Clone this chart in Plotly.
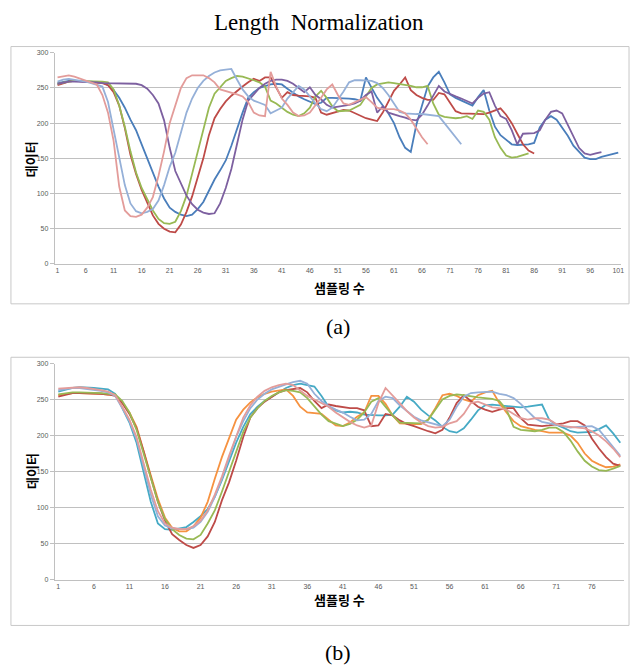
import plotly.graph_objects as go

# ---------------- data: (a) raw sequences ----------------
a_blue = [257, 259, 260, 260, 260, 259, 259, 258, 258, 254, 247, 236, 222, 205, 190, 170, 150, 130, 110, 93,
          80, 74, 70, 68, 70, 78, 88, 104, 120, 133, 147, 168, 192, 215, 236, 244, 250, 253, 255, 256,
          255, 249, 243, 238, 234, 230, 227, 229, 236, 236, 236, 236, 235, 234, 232, 265, 250, 236, 225, 214,
          200, 180, 165, 159, 198, 226, 252, 265, 273, 258, 241, 236, 232, 228, 225, 237, 247, 218, 195, 183,
          176, 170, 169, 169, 170, 172, 194, 205, 210, 205, 194, 182, 168, 159, 151, 149, 149, 152, 154, 156,
          158]
a_red = [254, 257, 259, 260, 260, 259, 258, 258, 257, 254, 244, 225, 193, 155, 128, 105, 86, 69, 57, 50,
         46, 45, 56, 74, 96, 122, 150, 183, 207, 220, 231, 239, 246, 252, 258, 263, 260, 265, 265, 250,
         236, 244, 240, 239, 239, 238, 236, 215, 212, 214, 217, 219, 218, 214, 210, 207, 205, 203, 215, 230,
         246, 255, 265, 247, 240, 236, 233, 233, 243, 241, 228, 217, 214, 214, 214, 213, 213, 215, 218, 221,
         212, 200, 185, 170, 161, 157]
a_green = [256, 258, 259, 260, 260, 260, 260, 260, 259, 258, 248, 225, 195, 160, 130, 108, 91, 76, 64, 58,
           57, 60, 75, 97, 128, 160, 192, 222, 242, 251, 260, 264, 267, 266, 264, 261, 258, 252, 232, 228,
           222, 216, 212, 210, 214, 222, 238, 246, 236, 224, 217, 217, 218, 222, 226, 238, 250, 255, 257, 258,
           257, 256, 255, 253, 251, 251, 253, 228, 212, 209, 208, 207, 208, 210, 206, 218, 216, 205, 180, 165,
           154, 151, 152, 154, 157]
a_purple = [256, 258, 259, 259, 259, 259, 258, 258, 257, 257, 257, 257, 257, 257, 256, 254, 249, 240, 228, 204,
            165, 132, 115, 97, 85, 77, 73, 71, 72, 86, 108, 135, 170, 205, 232, 241, 250, 256, 260, 262,
            262, 260, 256, 250, 244, 251, 240, 234, 226, 222, 223, 224, 226, 228, 232, 240, 245, 215, 224, 215,
            212, 210, 208, 205, 204, 212, 225, 240, 253, 245, 241, 238, 235, 232, 228, 236, 242, 244, 225, 210,
            206, 190, 170, 185, 185, 186, 190, 205, 216, 218, 214, 198, 180, 165, 157, 155, 157, 159]
a_lightblue = [259, 262, 263, 262, 261, 259, 257, 255, 252, 230, 192, 150, 112, 86, 75, 72, 74, 78, 90, 112,
               138, 158, 185, 215, 235, 250, 260, 267, 272, 275, 276, 277, 262, 248, 238, 232, 229, 226, 214, 218,
               222, 235, 244, 253, 248, 238, 228, 220, 217, 222, 233, 245, 258, 261, 261, 261, 260, 257, 250, 240,
               228, 216, 214, 213, 213, 213, 212, 212, 210, 200, 190, 180, 170]
a_pink = [265, 267, 268, 266, 263, 260, 258, 255, 240, 215, 175, 110, 76, 68, 67, 70, 80, 95, 125, 160,
          200, 225, 250, 264, 268, 268, 268, 264, 258, 248, 246, 244, 241, 238, 230, 215, 211, 210, 273, 252,
          235, 226, 215, 210, 211, 215, 225, 236, 248, 255, 240, 228, 226, 230, 234, 237, 230, 222, 220, 220,
          220, 218, 214, 205, 192, 180, 170]

# ---------------- data: (b) length-normalised sequences (80 samples) ----------------
b_teal = [261, 264, 266, 267, 267, 266, 265, 264, 258, 238, 218, 190, 148, 108, 78, 70, 69, 71, 73, 80,
          88, 98, 115, 138, 165, 190, 212, 230, 240, 248, 254, 260, 266, 270, 272, 270, 268, 255, 240, 235,
          232, 233, 232, 229, 228, 228, 228, 229, 240, 254, 247, 236, 228, 221, 212, 206, 204, 210, 222, 235,
          242, 243, 242, 241, 240, 239, 240, 242, 243, 222, 215, 211, 206, 204, 204, 205, 209, 214, 203, 190]
b_orange = [256, 258, 259, 259, 259, 259, 258, 257, 256, 245, 232, 212, 180, 145, 112, 86, 72, 67, 67, 74,
            86, 108, 140, 170, 196, 222, 236, 246, 253, 258, 261, 263, 264, 255, 240, 232, 231, 230, 222, 214,
            213, 218, 226, 232, 255, 255, 244, 228, 217, 216, 216, 216, 222, 238, 256, 258, 255, 250, 247, 256,
            260, 262, 245, 232, 220, 213, 210, 208, 206, 204, 204, 204, 200, 190, 175, 165, 160, 156, 157, 160]
b_red = [254, 257, 259, 259, 259, 259, 258, 257, 255, 245, 230, 210, 178, 142, 108, 82, 63, 55, 48, 44,
         48, 60, 80, 110, 135, 165, 198, 225, 238, 247, 254, 260, 263, 265, 266, 260, 248, 238, 243, 241,
         239, 238, 238, 235, 213, 214, 230, 228, 221, 216, 213, 209, 206, 203, 208, 225, 245, 256, 248, 240,
         236, 233, 236, 238, 238, 224, 215, 214, 213, 214, 215, 217, 220, 220, 214, 196, 182, 170, 161, 158]
b_green = [257, 259, 260, 260, 260, 260, 259, 258, 257, 248, 232, 208, 175, 140, 108, 84, 70, 62, 57, 56,
           62, 78, 96, 122, 150, 180, 205, 225, 238, 248, 255, 260, 263, 262, 260, 252, 240, 229, 220, 216,
           213, 216, 222, 232, 247, 252, 240, 228, 218, 218, 218, 217, 222, 236, 250, 255, 257, 256, 254, 253,
           252, 251, 248, 236, 212, 208, 207, 206, 208, 211, 211, 205, 193, 178, 165, 157, 152, 151, 154, 158]
b_lightblue = [263, 265, 266, 266, 265, 264, 262, 260, 255, 238, 220, 195, 158, 118, 88, 75, 71, 70, 70, 72,
               80, 94, 115, 140, 170, 198, 220, 238, 250, 258, 264, 268, 271, 274, 276, 272, 258, 248, 241, 236,
               232, 226, 221, 222, 230, 248, 254, 252, 242, 234, 226, 221, 218, 216, 213, 222, 240, 254, 259, 260,
               261, 261, 258, 256, 252, 244, 234, 224, 219, 217, 214, 212, 211, 212, 213, 213, 208, 196, 184, 172]
b_pink = [265, 266, 267, 267, 266, 265, 263, 261, 256, 240, 222, 198, 162, 125, 95, 78, 72, 70, 70, 74,
          82, 96, 118, 143, 172, 200, 225, 242, 254, 262, 267, 270, 272, 270, 262, 255, 250, 245, 240, 232,
          225, 219, 214, 211, 214, 245, 266, 256, 245, 234, 225, 218, 213, 211, 212, 217, 220, 230, 245, 247,
          243, 239, 238, 236, 230, 224, 222, 224, 224, 222, 216, 213, 212, 211, 210, 206, 200, 192, 182, 170]

a_ticks = list(range(1, 102, 5))
b_ticks = list(range(1, 77, 5))
y_ticks = [0, 50, 100, 150, 200, 250, 300]

a_series = [(a_blue, "#4a7ebb"), (a_red, "#be4b48"), (a_green, "#98b954"),
            (a_purple, "#7d60a0"), (a_lightblue, "#95b0d8"), (a_pink, "#e39c9a")]
b_series = [(b_teal, "#46aac5"), (b_orange, "#f69240"), (b_red, "#be4b48"),
            (b_green, "#98b954"), (b_lightblue, "#95b0d8"), (b_pink, "#e39c9a")]

W, H = 636, 670
fig = go.Figure()
for vals, col in a_series:
    fig.add_trace(go.Scatter(x=list(range(1, len(vals) + 1)), y=vals, mode="lines",
                             line=dict(color=col, width=1.8), xaxis="x", yaxis="y",
                             showlegend=False, hoverinfo="skip"))
for vals, col in b_series:
    fig.add_trace(go.Scatter(x=list(range(1, len(vals) + 1)), y=vals, mode="lines",
                             line=dict(color=col, width=1.8), xaxis="x2", yaxis="y2",
                             showlegend=False, hoverinfo="skip"))

def px_x(p):
    return p / W

def px_y(p):
    return 1 - p / H

grid = "#c0c0c0"
tickfont = dict(family="Liberation Sans, Arial", size=7, color="#595959")

xa = dict(showgrid=False, zeroline=False, showline=True, linecolor=grid, linewidth=1,
          ticks="", tickfont=tickfont, fixedrange=True)
ya = dict(range=[0, 300], tickvals=y_ticks, showgrid=True, gridcolor=grid, gridwidth=1,
          zeroline=False, showline=True, linecolor=grid, linewidth=1, ticks="outside",
          ticklen=4, tickcolor=grid, tickfont=tickfont, fixedrange=True)

fig.update_layout(
    width=W, height=H, margin=dict(l=0, r=0, t=0, b=0),
    paper_bgcolor="white", plot_bgcolor="white",
    xaxis=dict(xa, domain=[px_x(55), px_x(624)], range=[0.5, 101.5], tickvals=a_ticks, anchor="y"),
    yaxis=dict(ya, domain=[px_y(262.7), px_y(49.3)], anchor="x"),
    xaxis2=dict(xa, domain=[px_x(55), px_x(626.8)], range=[0.5, 80.5], tickvals=b_ticks, anchor="y2"),
    yaxis2=dict(ya, domain=[px_y(581.7), px_y(363.3)], anchor="x2"),
)

# chart frames
for y0, y1 in [(43, 303), (357, 628)]:
    fig.add_shape(type="rect", xref="paper", yref="paper",
                  x0=px_x(11), x1=px_x(632), y0=px_y(y1), y1=px_y(y0),
                  line=dict(color="#c8c8c8", width=1), fillcolor="rgba(0,0,0,0)", layer="below")

kfont = dict(family="Noto Sans CJK KR", size=13, color="#000000")
serif = dict(family="Liberation Serif, Times New Roman, serif", size=23, color="#000000")
ann = [
    dict(text="Length  Normalization", x=px_x(321), y=px_y(19), font=serif),
    dict(text="<b>샘플링 수</b>", x=px_x(341), y=px_y(286), font=kfont),
    dict(text="<b>샘플링 수</b>", x=px_x(341), y=px_y(602), font=kfont),
    dict(text="<b>데이터</b>", x=px_x(31), y=px_y(157), font=kfont, textangle=-90),
    dict(text="<b>데이터</b>", x=px_x(31), y=px_y(472), font=kfont, textangle=-90),
    dict(text="(a)", x=px_x(340), y=px_y(326), font=dict(serif, size=22)),
    dict(text="(b)", x=px_x(340), y=px_y(655), font=dict(serif, size=22)),
]
for a in ann:
    fig.add_annotation(xref="paper", yref="paper", showarrow=False,
                       xanchor="center", yanchor="middle", **a)

fig.write_html("out.html", config={"displayModeBar": False},
               post_script="document.body.style.margin='0';document.body.style.overflow='hidden';")
